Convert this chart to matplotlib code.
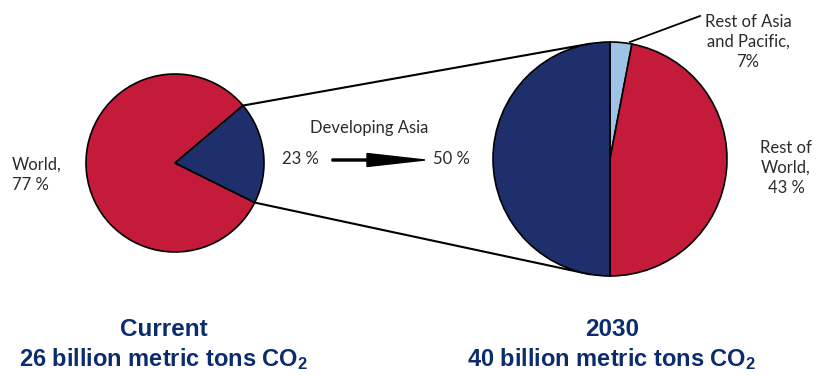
import matplotlib
matplotlib.use("Agg")
import matplotlib.pyplot as plt
import numpy as np

plt.rcParams['mathtext.default'] = 'regular'

# wedge shares as drawn in the source graphic (labels carry the quoted figures)
current_labels = ["World", "Developing Asia"]
current_shares = [81.5, 18.5]
current_colors = ["#c41b3b", "#1f2f6b"]

future_labels = ["Rest of Asia and Pacific", "Rest of World", "Developing Asia"]
future_shares = [3.0, 47.0, 50.0]
future_colors = ["#9fc3e7", "#c41b3b", "#1f2f6b"]

asia_now, asia_2030 = "23 %", "50 %"
world_now = "World,\n77 %"
rest_world = "Rest of\nWorld,\n43 %"
rest_asia = "Rest of Asia\nand Pacific,\n7%"
titles = ["Current", "2030"]
totals = ["26 billion metric tons CO$_2$", "40 billion metric tons CO$_2$"]

W, H = 816, 376
fig = plt.figure(figsize=(W / 100, H / 100), dpi=100)
ax = fig.add_axes([0, 0, 1, 1])


def py(y):
    # pixel row (from top) -> data y
    return H - y


label_font = dict(family=["Lato", "DejaVu Sans"], fontsize=12, color="#2b2b2b")
title_font = dict(family=["Liberation Sans", "DejaVu Sans"], fontweight="bold",
                  color="#0b2d6d")

c1, r1 = (175, py(163)), 89
c2, r2 = (610, py(159)), 117
start1 = 40.2

ax.pie(current_shares, colors=current_colors, startangle=start1, radius=r1,
       center=c1, wedgeprops=dict(edgecolor="black", linewidth=1.2))
ax.pie(future_shares, colors=future_colors, startangle=90, counterclock=False,
       radius=r2, center=c2, wedgeprops=dict(edgecolor="black", linewidth=1.2))

# connector lines from the Developing Asia wedge to the 2030 pie
a_top = np.radians(start1)
a_bot = np.radians(start1 + 360 * current_shares[0] / 100)
b_top, b_bot = np.radians(100), np.radians(260)
ax.plot([c1[0] + r1 * np.cos(a_top), c2[0] + r2 * np.cos(b_top)],
        [c1[1] + r1 * np.sin(a_top), c2[1] + r2 * np.sin(b_top)],
        color="black", lw=1.5, zorder=0)
ax.plot([c1[0] + r1 * np.cos(a_bot), c2[0] + r2 * np.cos(b_bot)],
        [c1[1] + r1 * np.sin(a_bot), c2[1] + r2 * np.sin(b_bot)],
        color="black", lw=1.5, zorder=0)

# leader for the small slice
ax.plot([630, 700], [py(42), py(16)], color="black", lw=1.3)

ax.text(12, py(175), world_now, ha="left", va="center", linespacing=1.35, **label_font)
ax.text(786, py(168), rest_world, ha="center", va="center", linespacing=1.3, **label_font)
ax.text(748, py(42), rest_asia, ha="center", va="center", linespacing=1.3, **label_font)
ax.text(369, py(128), "Developing Asia", ha="center", va="center", **label_font)
ax.text(300, py(159), asia_now, ha="center", va="center", **label_font)
ax.text(451, py(159), asia_2030, ha="center", va="center", **label_font)
ax.arrow(332, py(160), 93, 0, width=2, head_width=13, head_length=58,
         length_includes_head=True, color="black")

for x, t, s in zip([164, 612], titles, totals):
    ax.text(x, py(330), t, ha="center", va="center", fontsize=17.5, **title_font)
    ax.text(x, py(359), s, ha="center", va="center", fontsize=17, **title_font)

ax.set_xlim(0, W)
ax.set_ylim(0, H)
ax.set_aspect("equal")
ax.axis("off")

fig.savefig("out.png", dpi=100)
